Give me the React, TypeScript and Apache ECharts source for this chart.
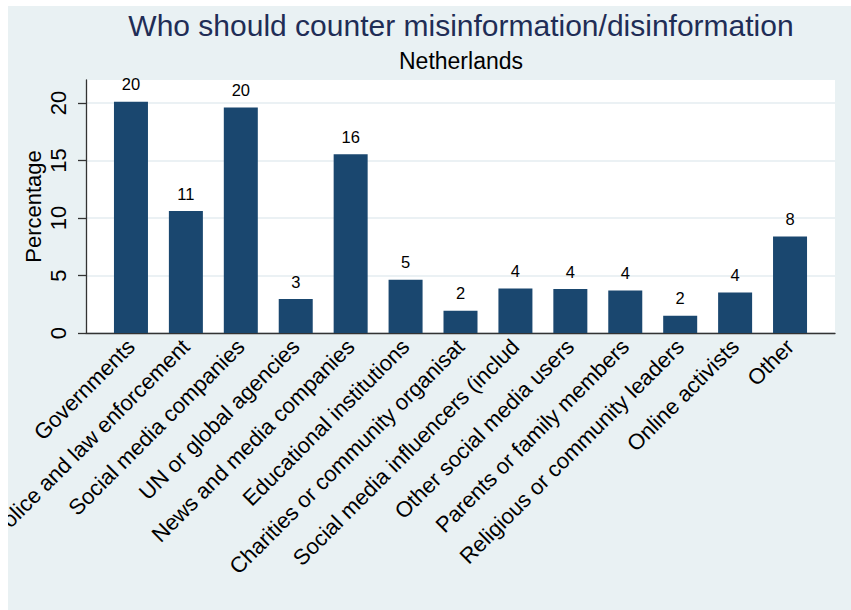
import React, { useEffect, useRef } from "react";
import * as echarts from "echarts";

const titleText = "Who should counter misinformation/disinformation";
const subtitleText = "Netherlands";
const yAxisName = "Percentage";

const categories = [
  "Governments",
  "Police and law enforcement",
  "Social media companies",
  "UN or global agencies",
  "News and media companies",
  "Educational institutions",
  "Charities or community organisat",
  "Social media influencers (includ",
  "Other social media users",
  "Parents or family members",
  "Religious or community leaders",
  "Online activists",
  "Other",
];

const percentages = [20.1, 10.6, 19.6, 2.95, 15.55, 4.63, 1.94, 3.88, 3.82, 3.7, 1.5, 3.53, 8.4];

const yTicks = [0, 5, 10, 15, 20];
const yMax = 22;

const FONT = "'Liberation Sans', Arial, Helvetica, sans-serif";

export default function App() {
  const ref = useRef<HTMLDivElement>(null);

  useEffect(() => {
    if (!ref.current) return;
    const chart = echarts.init(ref.current, undefined, { renderer: "svg" });
    const gridTop = 74;
    const gridBottom = 277;
    chart.setOption({
      animation: false,
      backgroundColor: "#e9f1f3",
      textStyle: { fontFamily: FONT },
      graphic: [
        {
          type: "text",
          x: 453,
          y: 19,
          style: {
            text: titleText,
            fill: "#1f2d56",
            font: `30px ${FONT}`,
            textAlign: "center",
            textVerticalAlign: "middle",
          },
        },
        {
          type: "text",
          x: 453,
          y: 55,
          style: {
            text: subtitleText,
            fill: "#000000",
            font: `23px ${FONT}`,
            textAlign: "center",
            textVerticalAlign: "middle",
          },
        },
      ],
      grid: [
        {
          left: 78,
          right: 16,
          top: gridTop,
          bottom: gridBottom,
          show: true,
          backgroundColor: "#ffffff",
          borderWidth: 0,
          containLabel: false,
          outerBoundsMode: "none",
        },
        {
          left: 95.5,
          right: 33.5,
          top: gridTop,
          bottom: gridBottom,
          containLabel: false,
          outerBoundsMode: "none",
        },
      ],
      xAxis: [
        {
          type: "category",
          gridIndex: 0,
          data: categories,
          axisLine: { show: true, lineStyle: { color: "#333333", width: 1.3 } },
          axisTick: { show: false },
          axisLabel: { show: false },
          splitLine: { show: false },
        },
        {
          type: "category",
          gridIndex: 1,
          data: categories,
          axisLine: { show: false },
          axisTick: { show: false },
          axisLabel: {
            interval: 0,
            rotate: 45,
            margin: 10,
            fontSize: 22,
            color: "#000000",
            fontFamily: FONT,
            hideOverlap: false,
          },
        },
      ],
      yAxis: [
        {
          type: "value",
          gridIndex: 0,
          min: 0,
          max: yMax,
          interval: 5,
          name: yAxisName,
          nameLocation: "middle",
          nameGap: 42,
          nameMoveOverlap: false,
          nameRotate: 90,
          nameTextStyle: { fontSize: 22, color: "#000000", fontFamily: FONT },
          axisLine: { show: true, lineStyle: { color: "#333333", width: 1.3 } },
          axisTick: {
            show: true,
            length: 8,
            customValues: yTicks,
            lineStyle: { color: "#333333", width: 1.3 },
          },
          axisLabel: {
            customValues: yTicks,
            rotate: 90,
            margin: 17,
            fontSize: 22,
            color: "#000000",
            fontFamily: FONT,
          },
          splitLine: { show: true, lineStyle: { color: "#e4edf0", width: 1.5 } },
        },
        {
          type: "value",
          gridIndex: 1,
          min: 0,
          max: yMax,
          interval: 5,
          show: false,
          splitLine: { show: false },
        },
      ],
      series: [
        {
          type: "bar",
          xAxisIndex: 1,
          yAxisIndex: 1,
          data: percentages,
          barWidth: 34,
          itemStyle: { color: "#1a476f" },
          label: {
            show: true,
            position: "top",
            distance: 9,
            fontSize: 16.5,
            color: "#000000",
            fontFamily: FONT,
            formatter: (p: any) => String(Math.round(p.value)),
          },
        },
      ],
    });
    return () => chart.dispose();
  }, []);

  return (
    <div
      ref={ref}
      style={{ position: "absolute", left: 8, top: 6, width: 843, height: 604 }}
    />
  );
}
